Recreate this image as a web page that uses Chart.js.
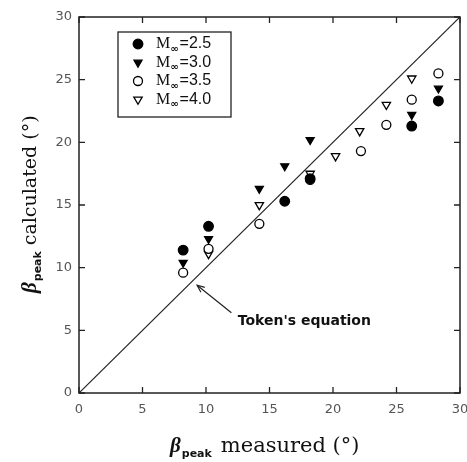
<!DOCTYPE html>
<html><head><meta charset="utf-8">
<script src="https://cdn.jsdelivr.net/npm/chart.js@4"></script>
<style>html,body{margin:0;padding:0;background:#fff}#w{width:467px;height:462px}</style>
</head><body><div id="w"><canvas id="c"></canvas></div>
<script>
const legendLabels = ["2.5", "3.0", "3.5", "4.0"];
const m25 = [[8.2,11.4],[10.2,13.3],[16.2,15.3],[18.2,17.1],[26.2,21.3],[28.3,23.3]];
const m30 = [[8.2,10.4],[10.2,12.3],[14.2,16.3],[16.2,18.1],[18.2,20.2],[26.2,22.2],[28.3,24.3]];
const m35 = [[8.2,9.6],[10.2,11.5],[14.2,13.5],[18.2,17.0],[22.2,19.3],[24.2,21.4],[26.2,23.4],[28.3,25.5]];
const m40 = [[10.2,11.1],[14.2,15.0],[18.2,17.5],[20.2,18.9],[22.1,20.9],[24.2,23.0],[26.2,25.1]];
const tokenLine = [[0,0],[30,30]];
const tickValues = [0,5,10,15,20,25,30];
const annotText = "Token's equation";
const annotHead = [9.3, 8.6];
const annotTail = [12.0, 6.4];
const annotPos = [12.5, 5.7];

const toPts = a => a.map(p => ({x:p[0], y:p[1]}));
const styles = [
  {pointStyle:'circle', rotation:0, fill:'#000', r:4.8},
  {pointStyle:'triangle', rotation:180, fill:'#000', r:4.6},
  {pointStyle:'circle', rotation:0, fill:'#fff', r:4.5},
  {pointStyle:'triangle', rotation:180, fill:'#fff', r:4.8}
];
const series = [m25, m30, m35, m40];

const datasets = series.map((s,i) => ({
  type:'scatter', label:'M=' + legendLabels[i], data: toPts(s),
  pointStyle: styles[i].pointStyle, rotation: styles[i].rotation,
  pointRadius: styles[i].r, pointBackgroundColor: styles[i].fill,
  pointBorderColor:'#000', pointBorderWidth:1.3
}));
datasets.push({type:'line', label:'Token', data: toPts(tokenLine), borderColor:'#222', borderWidth:1.2, pointRadius:0, fill:false});

const decor = {
  id:'decor',
  afterDraw(chart){
    const ctx = chart.ctx, xs = chart.scales.x, ys = chart.scales.y, a = chart.chartArea;
    ctx.save();
    ctx.strokeStyle = '#222'; ctx.lineWidth = 1.5;
    ctx.strokeRect(a.left, a.top, a.right-a.left, a.bottom-a.top);
    ctx.lineWidth = 1.3;
    tickValues.forEach(v => {
      const px = xs.getPixelForValue(v), py = ys.getPixelForValue(v);
      ctx.beginPath();
      ctx.moveTo(px, a.bottom); ctx.lineTo(px, a.bottom-6);
      ctx.moveTo(px, a.top); ctx.lineTo(px, a.top+6);
      ctx.moveTo(a.left, py); ctx.lineTo(a.left+6, py);
      ctx.moveTo(a.right, py); ctx.lineTo(a.right-6, py);
      ctx.stroke();
    });
    const lx = 118, ly = 32, lw = 113, lh = 85;
    ctx.lineWidth = 1.3; ctx.strokeStyle = '#222';
    ctx.strokeRect(lx, ly, lw, lh);
    legendLabels.forEach((lab, i) => {
      const cy = 44 + i*18.5, cx = 138;
      const st = styles[i];
      ctx.beginPath();
      if (st.pointStyle === 'circle') {
        ctx.arc(cx, cy, st.r, 0, Math.PI*2);
      } else {
        const r = st.r;
        ctx.moveTo(cx - r*0.87, cy - r*0.5);
        ctx.lineTo(cx + r*0.87, cy - r*0.5);
        ctx.lineTo(cx, cy + r);
        ctx.closePath();
      }
      ctx.fillStyle = st.fill; ctx.fill();
      ctx.lineWidth = 1.3; ctx.strokeStyle = '#000'; ctx.stroke();
      ctx.fillStyle = '#111';
      ctx.textBaseline = 'middle'; ctx.textAlign = 'left';
      ctx.font = '16px "Liberation Serif", serif';
      ctx.fillText('M', 156, cy);
      let x = 156 + ctx.measureText('M').width;
      ctx.font = 'bold 10px "DejaVu Sans", sans-serif';
      ctx.fillText('\u221E', x, cy + 5);
      x += ctx.measureText('\u221E').width + 1;
      ctx.font = '16px "Liberation Sans", sans-serif';
      ctx.fillText('=' + lab, x, cy);
    });
    const hx = xs.getPixelForValue(annotHead[0]), hy = ys.getPixelForValue(annotHead[1]);
    const tx = xs.getPixelForValue(annotTail[0]), ty = ys.getPixelForValue(annotTail[1]);
    ctx.strokeStyle = '#222'; ctx.lineWidth = 1.2;
    ctx.beginPath(); ctx.moveTo(tx, ty); ctx.lineTo(hx, hy); ctx.stroke();
    const ang = Math.atan2(hy-ty, hx-tx);
    ctx.beginPath();
    ctx.moveTo(hx - 8*Math.cos(ang-0.4), hy - 8*Math.sin(ang-0.4));
    ctx.lineTo(hx, hy);
    ctx.lineTo(hx - 8*Math.cos(ang+0.4), hy - 8*Math.sin(ang+0.4));
    ctx.stroke();
    ctx.fillStyle = '#111';
    ctx.font = 'bold 14px "DejaVu Sans", sans-serif';
    ctx.textAlign = 'left'; ctx.textBaseline = 'middle';
    ctx.fillText(annotText, xs.getPixelForValue(annotPos[0]), ys.getPixelForValue(annotPos[1]));
    function title(x0, y0, gap) {
      ctx.textBaseline = 'alphabetic'; ctx.textAlign = 'left';
      ctx.fillStyle = '#111';
      ctx.font = 'bold italic 21px "Liberation Serif", serif';
      ctx.fillText('\u03B2', x0, y0);
      let x = x0 + ctx.measureText('\u03B2').width + 1;
      ctx.font = 'bold 11px "DejaVu Sans", sans-serif';
      ctx.fillText('peak', x, y0 + 5);
      x += ctx.measureText('peak').width + gap;
      return x;
    }
    let x = title(170, 452, 9);
    ctx.font = '21px "DejaVu Serif", serif';
    ctx.fillText('measured (\u00B0)', x, 452);
    ctx.save();
    ctx.translate(36, 293); ctx.rotate(-Math.PI/2);
    x = title(0, 0, 6);
    ctx.font = '19px "DejaVu Serif", serif';
    ctx.fillText('calculated (\u00B0)', x, 0);
    ctx.restore();
    ctx.restore();
  }
};

const tickFont = {family:'"DejaVu Sans", sans-serif', size:13};
new Chart(document.getElementById('c'), {
  data: { datasets },
  options: {
    responsive:true, maintainAspectRatio:false, animation:false,
    layout:{padding:{left:0, top:17, right:7, bottom:0}},
    plugins:{legend:{display:false}, tooltip:{enabled:false}},
    scales:{
      x:{type:'linear', min:0, max:30,
        afterBuildTicks: s => { s.ticks = tickValues.map(v => ({value:v})); },
        afterFit: s => { s.height = 69; s.paddingLeft = 0; s.paddingRight = 0; },
        grid:{display:false, drawTicks:false}, border:{display:false},
        ticks:{padding:9, color:'#555', font:tickFont, maxRotation:0}},
      y:{type:'linear', min:0, max:30,
        afterBuildTicks: s => { s.ticks = tickValues.map(v => ({value:v})); },
        afterFit: s => { s.width = 79; s.paddingTop = 0; s.paddingBottom = 0; },
        grid:{display:false, drawTicks:false}, border:{display:false},
        ticks:{padding:7, color:'#555', font:tickFont}}
    }
  },
  plugins:[decor]
});
</script>
</body></html>
